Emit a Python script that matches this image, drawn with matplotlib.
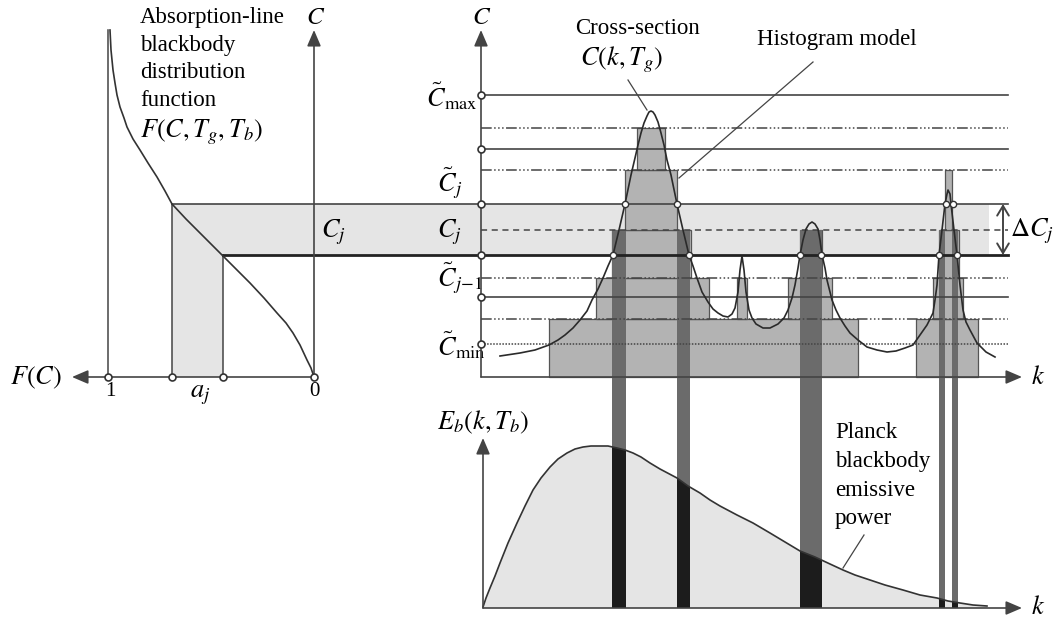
import matplotlib.pyplot as plt
from matplotlib.patches import Rectangle, Polygon

plt.rcParams['font.family'] = ['Liberation Serif', 'DejaVu Serif']
plt.rcParams['mathtext.fontset'] = 'stix'

# Schematic, in image pixels (y grows downwards)

# left panel: absorption-line blackbody distribution function F(C)
fc_x = [110, 110.5, 111, 112, 113, 115, 117, 120, 124, 127, 133, 140, 148, 157, 165, 172,
        186, 200, 212, 223, 237, 250, 264, 277, 286, 293, 300, 307, 311, 314]
fc_y = [30, 40, 50, 60, 70, 83, 95, 107, 118, 127, 139, 150, 163, 177, 191, 204,
        219, 233, 245, 256, 270, 283, 298, 313, 323, 333, 345, 360, 368, 377]
fc_marks = [108, 172, 223, 314]          # 1, a_j edges, 0 on the F(C) axis

# right panel: cross-section levels
lvl_circled = [95, 149, 204, 297]        # C~ levels (solid)
lvl_thick = 255                          # C~_{j-1} level, thicker
lvl_min = 344                            # C~_min, dotted
lvl_mid = [128, 170, 278, 319]           # histogram steps (dash-dot-dot)
lvl_cj = 230                             # C_j, dashed
band_top, band_bot = 204, 255            # Delta C_j band

# histogram model bars: (k0, k1, top, bottom)
hist_bars = [
    (549, 858, 319, 377), (916, 978, 319, 377),
    (596, 709, 278, 319), (737, 747, 278, 319), (788, 832, 278, 319), (933, 963, 278, 319),
    (612, 691, 230, 278), (800, 822, 230, 278), (939, 959, 230, 278),
    (625, 677, 170, 230), (945, 952, 170, 230),
    (637, 665, 128, 170),
]

# k-ranges where C lies within the Delta C_j band
strips = [(612, 626), (677, 690), (800, 822), (939, 945), (952, 958)]

# cross-section C(k, T_g)
cs_x = [500, 520, 535, 549, 558, 565, 573, 580, 587, 592, 598, 603, 608, 613, 619, 625, 631,
        635, 638, 641, 644, 647, 649, 651, 653, 655, 658, 661, 664, 667, 671, 677, 683, 689,
        693, 697, 702, 708, 713, 718, 723, 728, 732, 735, 738, 740, 742, 744, 746, 749, 752,
        756, 763, 770, 778, 784, 788, 792, 795, 798, 800, 803, 806, 809, 812, 815, 818, 820,
        822, 825, 827, 830, 832, 836, 840, 845, 850, 858, 867, 877, 887, 896, 905, 913, 920,
        927, 933, 935, 937, 939, 942, 945, 947, 948, 950, 951, 954, 957, 960, 963, 966, 970,
        977, 986, 995]
cs_y = [356, 353, 350, 345, 340, 335, 328, 320, 311, 300, 289, 278, 266, 255, 230, 204, 175,
        158, 145, 133, 123, 116, 112, 111, 112, 115, 122, 133, 145, 160, 175, 204, 230, 255,
        266, 278, 292, 302, 309, 313, 316, 317, 314, 308, 292, 270, 256, 270, 292, 310, 318,
        324, 328, 328, 324, 318, 310, 298, 285, 268, 255, 240, 229, 224, 222, 224, 229, 240,
        255, 268, 280, 292, 300, 310, 318, 326, 333, 340, 347, 350, 352, 351, 348, 345, 335,
        325, 313, 300, 285, 255, 230, 204, 194, 190, 194, 204, 230, 255, 285, 310, 322, 330,
        343, 352, 357]
cs_hits = [(625, 204), (677, 204), (946, 204), (953, 204),
           (613, 255), (689, 255), (800, 255), (821, 255), (939, 255), (957, 255)]

# Planck blackbody emissive power E_b(k, T_b)
pl_x = [483, 486, 490, 495, 500, 508, 517, 525, 533, 541, 550, 558, 567, 575, 583, 591, 600,
        608, 617, 625, 633, 641, 650, 660, 677, 688, 700, 710, 720, 737, 753, 770, 785, 800,
        815, 830, 843, 855, 870, 885, 903, 920, 937, 948, 960, 973, 987]
pl_y = [607, 598, 588, 576, 563, 543, 523, 506, 490, 478, 467, 459, 453, 449, 447, 446, 446,
        446, 448, 450, 453, 457, 463, 469, 478, 486, 493, 500, 506, 515, 523, 533, 542, 551,
        557, 564, 570, 575, 580, 585, 590, 595, 598, 601, 603, 605, 606]

LINE = '#444444'
DARK = '#333333'

fig = plt.figure(figsize=(10.53, 6.19), dpi=100)
ax = fig.add_axes([0, 0, 1, 1])
ax.set_xlim(0, 1053)
ax.set_ylim(619, 0)
ax.axis('off')


def arrow(tip, base, style='-|>', lw=1.2):
    ax.annotate('', xy=tip, xytext=base,
                arrowprops=dict(arrowstyle=style + ',head_length=0.7,head_width=0.3',
                                color=LINE, lw=lw, shrinkA=0, shrinkB=0,
                                mutation_scale=14), zorder=6)


# ---------------- shaded band (L shape across both panels) ----------------
ax.add_patch(Rectangle((fc_marks[1], band_top), 989 - fc_marks[1], band_bot - band_top,
                       fc='#e5e5e5', ec='none', zorder=1))
ax.add_patch(Rectangle((fc_marks[1], band_bot), fc_marks[2] - fc_marks[1], 377 - band_bot,
                       fc='#e5e5e5', ec='none', zorder=1))
ax.plot([fc_marks[1], fc_marks[1]], [band_top, 377], color=LINE, lw=1.1, zorder=4)
ax.plot([fc_marks[2], fc_marks[2]], [band_bot, 377], color=LINE, lw=1.1, zorder=4)
ax.plot([fc_marks[1], 1008], [band_top, band_top], color=LINE, lw=1.2, zorder=4)
ax.plot([fc_marks[2], 1008], [lvl_thick, lvl_thick], color='#222222', lw=2.0, zorder=4)

# ---------------- left panel ----------------
ax.plot([108, 108], [377, 30], color=LINE, lw=1.1, zorder=4)
ax.plot(fc_x, fc_y, color=DARK, lw=1.2, zorder=5)
arrow((72, 377), (314, 377))
arrow((314, 30), (314, 377))
ax.plot(fc_marks, [377] * len(fc_marks), 'o', ms=5, mfc='white', mec=DARK, mew=1.2, zorder=7)

ax.text(10, 378, r'$F(C)$', fontsize=19, va='center', ha='left')
ax.text(110, 392, '1', fontsize=15, ha='center', va='center')
ax.text(200, 395, r'$a_j$', fontsize=19, ha='center', va='center')
ax.text(314, 392, '0', fontsize=15, ha='center', va='center')
ax.text(316, 18, r'$C$', fontsize=18, ha='center', va='center')
ax.text(333, 232, r'$C_j$', fontsize=19, ha='center', va='center')
for i, s in enumerate(['Absorption-line', 'blackbody', 'distribution', 'function']):
    ax.text(140, 17 + 28 * i, s, fontsize=16.5, ha='left', va='center')
ax.text(140, 132, r'$F(C,T_g,T_b)$', fontsize=19, ha='left', va='center')

# ---------------- right panel: histogram ----------------
for k0, k1, top, bot in hist_bars:
    ax.add_patch(Rectangle((k0, top), k1 - k0, bot - top, fc='#b3b3b3', ec='#555555',
                           lw=0.9, zorder=2))

# Planck fill first, strips then clipped black part
pl_poly = Polygon(list(zip(pl_x, pl_y)) + [(987, 608), (483, 608)], closed=True,
                  fc='#e5e5e5', ec='none', zorder=1)
ax.add_patch(pl_poly)
for k0, k1 in strips:
    ax.add_patch(Rectangle((k0, lvl_cj), k1 - k0, 608 - lvl_cj, fc='#6b6b6b', ec='none', zorder=3))
    black = Rectangle((k0, 440), k1 - k0, 168, fc='#1c1c1c', ec='none', zorder=3.5)
    ax.add_patch(black)
    black.set_clip_path(pl_poly)

dashdot3 = (0, (7, 1.6, 1, 1.6, 1, 1.6, 1, 1.6))
for y in lvl_circled:
    if y != band_top:
        ax.plot([481, 1008], [y, y], color=LINE, lw=1.2, zorder=4)
for y in lvl_mid:
    ax.plot([481, 1008], [y, y], color=LINE, lw=1.1, ls=dashdot3, zorder=4)
ax.plot([481, 1008], [lvl_cj, lvl_cj], color=LINE, lw=1.1, ls=(0, (4, 3)), zorder=4)
ax.plot([481, 1008], [lvl_min, lvl_min], color=LINE, lw=1.1, ls=(0, (1, 1)), zorder=4)

arrow((481, 30), (481, 377))
arrow((1022, 377), (481, 377))
circ_y = lvl_circled + [lvl_thick, lvl_min]
ax.plot([481] * len(circ_y), circ_y, 'o', ms=5, mfc='white', mec=DARK, mew=1.2, zorder=7)

ax.plot(cs_x, cs_y, color='#2a2a2a', lw=1.2, zorder=5)
hx, hy = zip(*cs_hits)
ax.plot(hx, hy, 'o', ms=4.5, mfc='white', mec=DARK, mew=1.0, zorder=7)

# Delta C_j arrow
ax.annotate('', xy=(1003, band_top), xytext=(1003, band_bot),
            arrowprops=dict(arrowstyle='<->,head_length=0.5,head_width=0.3', color=LINE,
                            lw=1.4, shrinkA=0, shrinkB=0, mutation_scale=14), zorder=6)
ax.text(1010, 231, r'$\Delta C_j$', fontsize=19, ha='left', va='center')

ax.text(482, 18, r'$C$', fontsize=18, ha='center', va='center')
ax.text(477, 96, r'$\tilde{C}_{\mathrm{max}}$', fontsize=19, ha='right', va='center')
ax.text(437, 183, r'$\tilde{C}_j$', fontsize=19, ha='left', va='center')
ax.text(437, 232, r'$C_j$', fontsize=19, ha='left', va='center')
ax.text(437, 278, r'$\tilde{C}_{j\!-\!1}$', fontsize=19, ha='left', va='center')
ax.text(437, 345, r'$\tilde{C}_{\mathrm{min}}$', fontsize=19, ha='left', va='center')
ax.text(1038, 378, r'$k$', fontsize=19, ha='center', va='center')

ax.text(638, 28, 'Cross-section', fontsize=16.5, ha='center', va='center')
ax.text(622, 60, r'$C(k,T_g)$', fontsize=19, ha='center', va='center')
ax.plot([628, 647], [80, 110], color=LINE, lw=0.9, zorder=6)
ax.text(757, 40, 'Histogram model', fontsize=16.5, ha='left', va='center')
ax.plot([813, 679], [62, 178], color=LINE, lw=0.9, zorder=6)

# ---------------- bottom panel: Planck ----------------
ax.plot(pl_x, pl_y, color=DARK, lw=1.2, zorder=5)
arrow((483, 438), (483, 608))
arrow((1022, 608), (483, 608))
ax.text(483, 422, r'$E_b(k,T_b)$', fontsize=19, ha='center', va='center')
ax.text(1038, 608, r'$k$', fontsize=19, ha='center', va='center')
for i, s in enumerate(['Planck', 'blackbody', 'emissive', 'power']):
    ax.text(835, 433 + 28.5 * i, s, fontsize=16.5, ha='left', va='center')
ax.plot([864, 843], [535, 568], color=LINE, lw=0.9, zorder=6)

fig.savefig('out.png', dpi=100)
